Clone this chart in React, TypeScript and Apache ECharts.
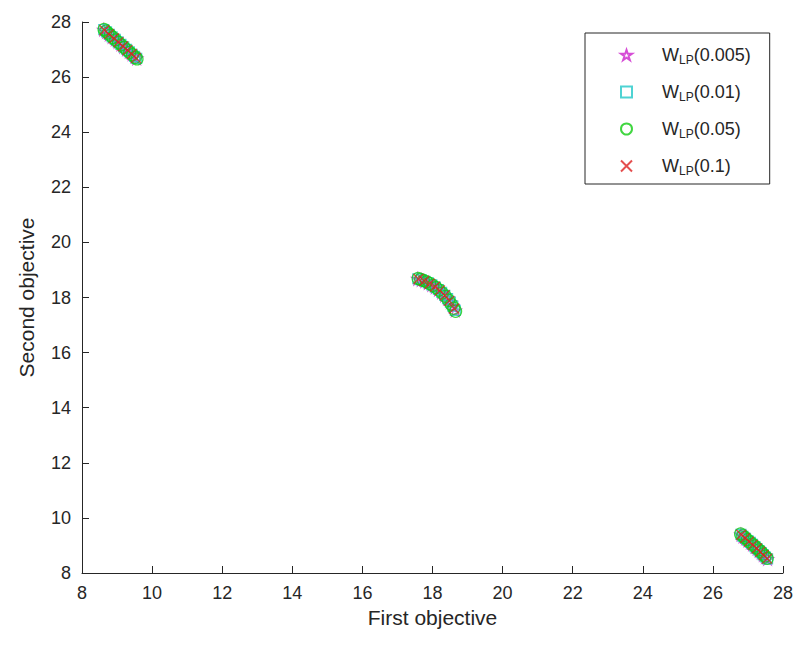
import React, { useEffect, useRef } from "react";
import * as echarts from "echarts";

// Pareto front points (three clusters), shared by the star / square / circle series
const frontX = [
  8.62, 8.70, 8.78, 8.86, 8.95, 9.03, 9.11, 9.19, 9.27, 9.35, 9.43, 9.50, 9.56,
  17.58, 17.68, 17.78, 17.88, 17.98, 18.08, 18.17, 18.26, 18.35, 18.43, 18.51, 18.58, 18.65,
  26.80, 26.86, 26.93, 27.00, 27.07, 27.13, 27.20, 27.26, 27.32, 27.38, 27.44, 27.50, 27.56,
];
const frontY = [
  27.72, 27.64, 27.55, 27.46, 27.37, 27.28, 27.19, 27.10, 27.01, 26.92, 26.83, 26.75, 26.68,
  18.68, 18.64, 18.59, 18.53, 18.46, 18.38, 18.29, 18.19, 18.08, 17.96, 17.83, 17.69, 17.53,
  9.40, 9.33, 9.26, 9.18, 9.11, 9.04, 8.96, 8.89, 8.81, 8.74, 8.66, 8.58, 8.51,
];
// W_LP(0.05) points (green circles), a slightly denser front
const circleX = [
  8.63, 8.68, 8.74, 8.81, 8.88, 8.96, 9.04, 9.12, 9.20, 9.28, 9.36, 9.44, 9.52, 9.57,
  17.59, 17.66, 17.74, 17.83, 17.92, 18.01, 18.10, 18.19, 18.28, 18.37, 18.46, 18.54, 18.61, 18.66,
  26.79, 26.85, 26.91, 26.98, 27.05, 27.12, 27.19, 27.25, 27.31, 27.37, 27.43, 27.49, 27.55,
];
const circleY = [
  27.73, 27.67, 27.60, 27.52, 27.44, 27.35, 27.26, 27.17, 27.08, 26.99, 26.90, 26.81, 26.72, 26.66,
  18.69, 18.66, 18.62, 18.57, 18.51, 18.44, 18.36, 18.27, 18.16, 18.04, 17.90, 17.75, 17.61, 17.50,
  9.42, 9.35, 9.29, 9.21, 9.13, 9.05, 8.98, 8.91, 8.84, 8.77, 8.69, 8.61, 8.53,
];
// W_LP(0.1) points (red crosses)
const crossX = [
  8.64, 8.77, 8.91, 9.04, 9.17, 9.30, 9.42, 9.54,
  17.60, 17.76, 17.92, 18.07, 18.21, 18.35, 18.48, 18.62,
  26.81, 26.92, 27.03, 27.14, 27.25, 27.35, 27.45, 27.55,
];
const crossY = [
  27.70, 27.56, 27.41, 27.27, 27.12, 26.98, 26.84, 26.70,
  18.67, 18.60, 18.50, 18.39, 18.26, 18.08, 17.88, 17.60,
  9.39, 9.27, 9.14, 9.02, 8.89, 8.77, 8.65, 8.52,
];

const seriesNames = ["0.005", "0.01", "0.05", "0.1"];
const xTicks = [8, 28, 2];
const yTicks = [8, 28, 2];

const STAR =
  "path://M50,0L61.8,35.4L100,35.4L69.1,57.3L80.9,92.7L50,70.8L19.1,92.7L30.9,57.3L0,35.4L38.2,35.4Z";
const CROSS = "path://M0,0L100,100M100,0L0,100";

export default function App() {
  const ref = useRef<HTMLDivElement>(null);
  useEffect(() => {
    if (!ref.current) return;
    const chart = echarts.init(ref.current, undefined, { renderer: "svg" });
    const front = frontX.map((x, i) => [x, frontY[i]]);
    const circles = circleX.map((x, i) => [x, circleY[i]]);
    const cross = crossX.map((x, i) => [x, crossY[i]]);
    const colors = ["#cc22cc", "#22c8c8", "#11cc11", "#dd2222"];
    const symbols = [STAR, "rect", "circle", CROSS];
    const sizes = [12, 10, 12, 10];
    const datas = [front, front, circles, cross];
    const font = "Liberation Sans, Arial, sans-serif";
    chart.setOption({
      animation: false,
      backgroundColor: "#ffffff",
      grid: { left: 71, right: 8, top: 14, bottom: 73, containLabel: false },
      xAxis: {
        type: "value",
        min: xTicks[0],
        max: xTicks[1],
        interval: xTicks[2],
        name: "First objective",
        nameLocation: "middle",
        nameGap: 34,
        nameTextStyle: { fontSize: 21, color: "#262626", fontFamily: font },
        axisLine: { lineStyle: { color: "#262626", width: 1 } },
        axisTick: { inside: true, length: 7, lineStyle: { color: "#262626" } },
        axisLabel: { fontSize: 18, color: "#262626", fontFamily: font, margin: 11 },
        splitLine: { show: false },
      },
      yAxis: {
        type: "value",
        min: yTicks[0],
        max: yTicks[1],
        interval: yTicks[2],
        name: "Second objective",
        nameLocation: "middle",
        nameGap: 45,
        nameTextStyle: { fontSize: 21, color: "#262626", fontFamily: font },
        axisLine: { show: true, lineStyle: { color: "#262626", width: 1 } },
        axisTick: { show: true, inside: true, length: 7, lineStyle: { color: "#262626" } },
        axisLabel: { fontSize: 18, color: "#262626", fontFamily: font, margin: 11 },
        splitLine: { show: false },
      },
      legend: {
        orient: "vertical",
        left: 577,
        top: 25,
        padding: [11, 19, 7, 35],
        itemGap: 15,
        itemWidth: 11,
        itemHeight: 11,
        borderColor: "#262626",
        borderWidth: 1,
        backgroundColor: "#ffffff",
        data: seriesNames.map((n, i) => ({ name: n, icon: symbols[i] })),
        formatter: (name: string) => `{p|}{w|W}{s|LP}{w|(${name})}`,
        textStyle: {
          fontFamily: font,
          color: "#262626",
          rich: {
            p: { width: 25 },
            w: { fontSize: 18, color: "#262626", fontFamily: font, lineHeight: 22 },
            s: {
              fontSize: 12,
              color: "#262626",
              fontFamily: font,
              verticalAlign: "bottom",
              lineHeight: 22,
              padding: [10, 0, 0, 0],
            },
          },
        },
      },
      series: seriesNames.map((n, i) => ({
        name: n,
        type: "scatter",
        symbol: symbols[i],
        symbolSize: sizes[i],
        data: datas[i],
        itemStyle: {
          color: "rgba(0,0,0,0)",
          borderColor: colors[i],
          borderWidth: 1.2,
        },
        emphasis: { disabled: true },
        z: 2 + i,
      })),
    });
    return () => chart.dispose();
  }, []);
  return <div ref={ref} style={{ width: 788, height: 638 }} />;
}
